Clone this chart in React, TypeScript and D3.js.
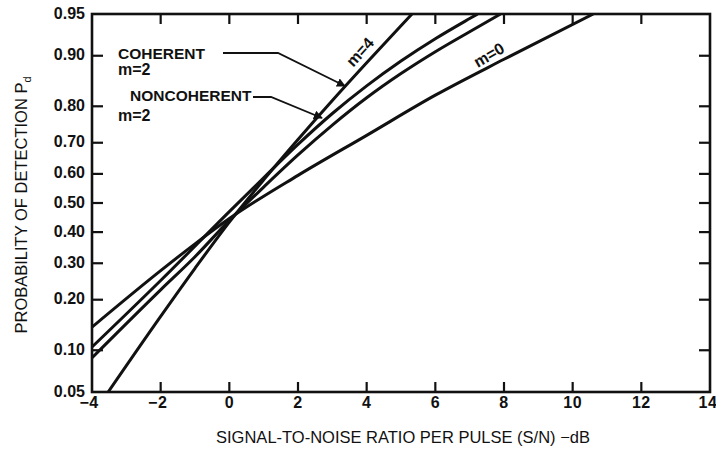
import React from "react";
import * as d3 from "d3";

// ---- data ----
const xTicks = [-4, -2, 0, 2, 4, 6, 8, 10, 12, 14];
const yTicks = [0.05, 0.1, 0.2, 0.3, 0.4, 0.5, 0.6, 0.7, 0.8, 0.9, 0.95];
const yTickLabels = ["0.05", "0.10", "0.20", "0.30", "0.40", "0.50", "0.60", "0.70", "0.80", "0.90", "0.95"];

const snrM0 = [-4, -2, -1, 0, 2, 4, 6, 8, 10.6];
const pdM0 = [0.14, 0.278, 0.361, 0.446, 0.595, 0.722, 0.826, 0.8945, 0.95];

const snrM4 = [-3.53, -2, -1, 0, 1, 2, 3, 4, 5, 5.32];
const pdM4 = [0.05, 0.162, 0.285, 0.434, 0.58, 0.71, 0.814, 0.889, 0.9386, 0.95];

const snrCoh = [-4, -2, 0, 1, 2, 3, 4, 5, 6, 7, 7.23];
const pdCoh = [0.105, 0.25, 0.47, 0.587, 0.695, 0.782, 0.846, 0.8917, 0.9236, 0.9458, 0.95];

const snrNon = [-4, -2, -1, 0, 1, 2, 3, 4, 5, 6, 7, 7.9];
const pdNon = [0.089, 0.225, 0.32, 0.44, 0.555, 0.662, 0.751, 0.82, 0.87, 0.906, 0.932, 0.95];

// inverse normal CDF (probability-paper axis)
function probit(p: number): number {
  const a = [-3.969683028665376e1, 2.209460984245205e2, -2.759285104469687e2, 1.38357751867269e2, -3.066479806614716e1, 2.506628277459239];
  const b = [-5.447609879822406e1, 1.615858368580409e2, -1.556989798598866e2, 6.680131188771972e1, -1.328068155288572e1];
  const c = [-7.784894002430293e-3, -3.223964580411365e-1, -2.400758277161838, -2.549671625887665, 4.374664141464968, 2.938163982698783];
  const d = [7.784695709041462e-3, 3.224671290700398e-1, 2.445134137142996, 3.754408661907416];
  const plow = 0.02425;
  const phigh = 1 - plow;
  if (p < plow) {
    const q = Math.sqrt(-2 * Math.log(p));
    return (((((c[0] * q + c[1]) * q + c[2]) * q + c[3]) * q + c[4]) * q + c[5]) / ((((d[0] * q + d[1]) * q + d[2]) * q + d[3]) * q + 1);
  }
  if (p <= phigh) {
    const q = p - 0.5;
    const r = q * q;
    return ((((((a[0] * r + a[1]) * r + a[2]) * r + a[3]) * r + a[4]) * r + a[5]) * q) / (((((b[0] * r + b[1]) * r + b[2]) * r + b[3]) * r + b[4]) * r + 1);
  }
  const q = Math.sqrt(-2 * Math.log(1 - p));
  return -(((((c[0] * q + c[1]) * q + c[2]) * q + c[3]) * q + c[4]) * q + c[5]) / ((((d[0] * q + d[1]) * q + d[2]) * q + d[3]) * q + 1);
}

const W = 716;
const H = 450;
const L = 92, R = 710, T = 14, B = 392;

const x = d3.scaleLinear().domain([-4, 14]).range([L, R]);
const z = d3.scaleLinear().domain([probit(0.05), probit(0.95)]).range([B, T]);
const y = (p: number) => z(probit(p));

const line = d3
  .line<[number, number]>()
  .x((d) => x(d[0]))
  .y((d) => y(d[1]))
  .curve(d3.curveMonotoneX);

const zip = (a: number[], b: number[]) => a.map((v, i) => [v, b[i]] as [number, number]);

const series = [zip(snrM0, pdM0), zip(snrM4, pdM4), zip(snrCoh, pdCoh), zip(snrNon, pdNon)];

const FONT = "'Liberation Sans', Arial, Helvetica, sans-serif";
const INK = "#111";

export default function App() {
  const innerX = xTicks.slice(1, -1);
  const innerY = yTicks.slice(1, -1);
  return (
    <svg width={W} height={H} style={{ position: "absolute", left: 0, top: 0, background: "#fff" }} fontFamily={FONT}>
      <defs>
        <clipPath id="plot">
          <rect x={L} y={T} width={R - L} height={B - T} />
        </clipPath>
        <marker id="arr" viewBox="0 0 10 10" refX="9" refY="5" markerWidth="5" markerHeight="5" orient="auto" markerUnits="strokeWidth">
          <path d="M0,0 L10,5 L0,10 z" fill={INK} />
        </marker>
      </defs>
      <rect x={0} y={0} width={W} height={H} fill="#fff" />

      {/* curves */}
      <g clipPath="url(#plot)">
        {series.map((s, i) => (
          <path key={i} d={line(s) || ""} fill="none" stroke={INK} strokeWidth={3} strokeLinejoin="round" />
        ))}
      </g>

      {/* frame */}
      <rect x={L} y={T} width={R - L} height={B - T} fill="none" stroke={INK} strokeWidth={2.6} />

      {/* inner ticks */}
      {innerX.map((v) => (
        <g key={"xt" + v}>
          <line x1={x(v)} x2={x(v)} y1={B} y2={B - 10} stroke={INK} strokeWidth={2.2} />
          <line x1={x(v)} x2={x(v)} y1={T} y2={T + 10} stroke={INK} strokeWidth={2.2} />
        </g>
      ))}
      {innerY.map((v) => (
        <g key={"yt" + v}>
          <line x1={L} x2={L + 11} y1={y(v)} y2={y(v)} stroke={INK} strokeWidth={2.2} />
          <line x1={R} x2={R - 11} y1={y(v)} y2={y(v)} stroke={INK} strokeWidth={2.2} />
        </g>
      ))}

      {/* tick labels */}
      {yTicks.map((v, i) => (
        <text key={"yl" + v} x={L - 7} y={y(v) - 1} textAnchor="end" dominantBaseline="central" fontSize={16} fontWeight="bold" fill={INK}>
          {yTickLabels[i]}
        </text>
      ))}
      {xTicks.map((v) => (
        <text key={"xl" + v} x={x(v) - (v < 0 ? 3 : v === 14 ? 2 : 0)} y={408} textAnchor="middle" fontSize={16} fontWeight="bold" fill={INK} letterSpacing={0.5}>
          {v < 0 ? "\u2212" + Math.abs(v) : String(v)}
        </text>
      ))}

      {/* axis titles */}
      <text x={403} y={443} textAnchor="middle" fontSize={16.5} fill={INK}>
        SIGNAL-TO-NOISE RATIO PER PULSE (S/N) −dB
      </text>
      <text transform="translate(27,205) rotate(-90)" textAnchor="middle" fontSize={16.5} fill={INK}>
        PROBABILITY OF DETECTION P<tspan fontSize={11} dy={4}>d</tspan>
      </text>

      {/* annotations */}
      <text x={118} y={59} fontSize={15.5} fontWeight="bold" fill={INK}>COHERENT</text>
      <text x={118} y={75} fontSize={16} fontWeight="bold" fill={INK}>m=2</text>
      <text x={130} y={101} fontSize={15.5} fontWeight="bold" fill={INK}>NONCOHERENT</text>
      <text x={118} y={121} fontSize={16} fontWeight="bold" fill={INK}>m=2</text>

      <polyline points="223,53 278,53 345,86" fill="none" stroke={INK} strokeWidth={1.8} markerEnd="url(#arr)" />
      <polyline points="253,97 271,97 322,118" fill="none" stroke={INK} strokeWidth={1.8} markerEnd="url(#arr)" />

      <text transform="translate(360,52) rotate(-48)" textAnchor="middle" dominantBaseline="central" fontSize={16} fontWeight="bold" fill={INK}>
        m=4
      </text>
      <text transform="translate(489,55) rotate(-30)" textAnchor="middle" dominantBaseline="central" fontSize={16} fontWeight="bold" fill={INK}>
        m=0
      </text>
    </svg>
  );
}
